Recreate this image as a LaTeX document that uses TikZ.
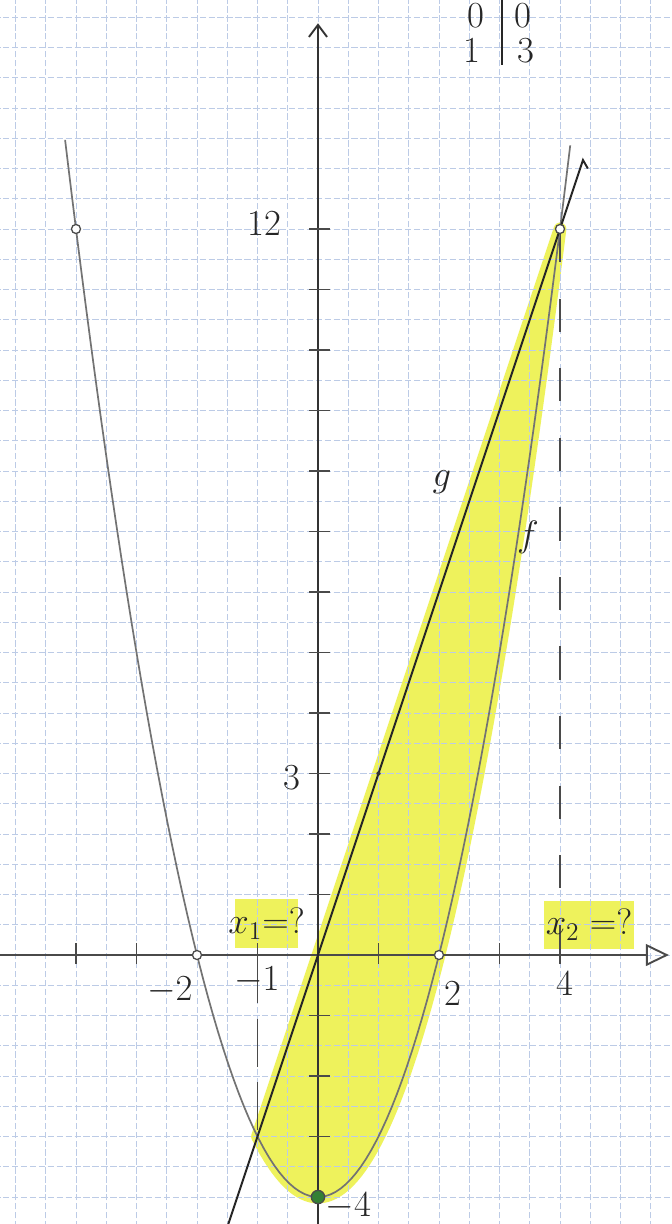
\documentclass[tikz,border=0pt]{standalone}
\usepackage{tikz}
\usepackage{xcolor}
\usetikzlibrary{arrows.meta}
\definecolor{marker}{HTML}{EEF25C}
\definecolor{gridblue}{HTML}{BCCBE6}
\definecolor{pencil}{HTML}{4A4A4A}

\begin{document}
\begin{tikzpicture}[x=1cm, y=1cm,
    dot/.style={circle, draw=pencil, fill=white, inner sep=0pt,
                minimum size=0.15cm, line width=0.6pt},
    hand/.style={font=\LARGE, text=black!85},
    hilite/.style={fill=marker, inner sep=1pt, minimum height=0.8cm}]
% Page
\useasboundingbox (-5.256,-4.446) rectangle (5.835,15.785);
\clip (-5.256,-4.446) rectangle (5.835,15.785);
\fill[white] (-5.256,-4.446) rectangle (5.835,15.785);
% Shaded area between g and f
\filldraw[marker, line width=6pt, line join=round]
    plot[domain=-1:4, samples=2] (\x,{3*\x}) --
    plot[domain=4:-1, samples=80] (\x,{\x*\x-4}) -- cycle;
% Highlighted questions
\node[hilite, minimum width=1.05cm] (q1bg) at (-0.85,0.52) {};
\node[hilite, minimum width=1.5cm] (q2bg) at (4.48,0.5) {};
% Graph paper
\draw[gridblue, line width=0.4pt, dash pattern=on 3pt off 1.2pt]
    (-5.5,-4.5) grid[step=0.5] (6,16);
% Axes
\draw[pencil, line width=0.9pt, -{Triangle[open, length=0.38cm, width=0.36cm]}]
    (-5.3,0) -- (5.8,0);
\draw[black!80, line width=0.9pt, -{Straight Barb[length=0.2cm, width=0.3cm]}]
    (0,-4.5) -- (0,15.4);
% Ticks
\foreach \y in {-3,-2,-1,1,2,...,12}
    \draw[pencil, line width=0.7pt] (-0.15,\y) -- (0.2,\y);
\foreach \x in {-4,-3,-1,1,3,4}
    \draw[pencil, line width=0.7pt] (\x,-0.15) -- (\x,0.2);
% Helper lines
\draw[pencil, line width=0.6pt, dash pattern=on 0.55cm off 0.6cm] (4,12) -- (4,0);
\draw[pencil, line width=0.6pt, dash pattern=on 0.8cm off 0.25cm] (-1,0) -- (-1,-3);
% f and g
\draw[black!55, line width=0.8pt]
    plot[domain=-4.18:4.17, samples=100] (\x,{\x*\x-4});
\draw[black!85, line width=0.9pt]
    plot[domain=-1.55:4.38, samples=2] (\x,{3*\x}) -- ++(0.08,-0.14);
% Points
\node[dot] (pA) at (-4,12) {};
\node[dot] (pB) at (4,12) {};
\node[dot] (pC) at (-2,0) {};
\node[dot] (pD) at (2,0) {};
\node[dot, fill=pencil!70!green, minimum size=0.22cm] (pV) at (0,-4) {};
\node[circle, fill=black!80, inner sep=0pt, minimum size=0.07cm] (pE) at (1,3) {};
% Axis labels
\node[hand] (l12) at (-0.88,12.1) {12};
\node[hand] (l3) at (-0.43,2.93) {3};
\node[hand] (lm4) at (0.5,-4.15) {$-4$};
\node[hand] (lm2) at (-2.45,-0.58) {$-2$};
\node[hand] (lm1) at (-1.01,-0.41) {$-1$};
\node[hand] (l2) at (2.23,-0.63) {2};
\node[hand] (l4) at (4.08,-0.46) {4};
% Graph names
\node[hand] (lg) at (2.05,7.82) {$g$};
\node[hand] (lf) at (3.47,6.91) {$f$};
% Questions
\node[hand] (q1) at (q1bg) {$x_1{=}?$};
\node[hand] (q2) at (q2bg) {$x_2 = ?$};
% Value table
\draw[black!85, line width=0.7pt] (3.04,15.9) -- (3.04,14.71);
\node[hand] (t0x) at (2.61,15.52) {0};
\node[hand] (t0y) at (3.39,15.52) {0};
\node[hand] (t1x) at (2.55,14.95) {1};
\node[hand] (t1y) at (3.44,14.95) {3};
\end{tikzpicture}
\end{document}
